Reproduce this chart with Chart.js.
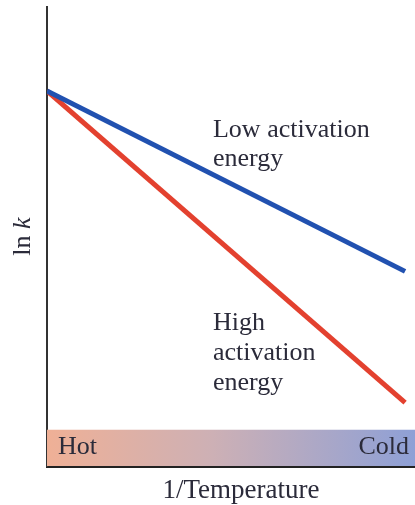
<!DOCTYPE html>
<html>
<head>
<meta charset="utf-8">
<script src="https://cdn.jsdelivr.net/npm/chart.js@4/dist/chart.umd.min.js"></script>
<style>
  html, body { margin: 0; padding: 0; background: #fff; }
  #wrap { width: 415px; height: 505px; }
</style>
</head>
<body>
<div id="wrap"><canvas id="chart" width="415" height="505"></canvas></div>
<script>
// 1/T runs 0 (hot) .. 1 (cold), ln k in arbitrary units 0..1
const xPoints = [0, 0.973];
const lowEa = [0.817, 0.424];
const highEa = [0.817, 0.138];
const bandLabels = ['Hot', 'Cold'];
const lowLabel = ['Low activation', 'energy'];
const highLabel = ['High', 'activation', 'energy'];
const xTitle = '1/Temperature';

const serif = '"Liberation Serif", "DejaVu Serif", serif';
const textColor = '#2b2b3a';
const fontSize = 26;

const toPoints = ys => ys.map((y, i) => ({ x: xPoints[i], y }));

// gradient band along the bottom, plus the annotations and axis titles
const decorations = {
    id: 'decorations',
    beforeDatasetsDraw(chart) {
        const { ctx, chartArea: a, scales } = chart;
        const bandTop = scales.y.getPixelForValue(0.079);
        const g = ctx.createLinearGradient(a.left, 0, a.right, 0);
        g.addColorStop(0, '#efb096');
        g.addColorStop(0.45, '#cdb0b5');
        g.addColorStop(1, '#8ea0d6');
        ctx.save();
        ctx.fillStyle = g;
        ctx.fillRect(a.left, bandTop, a.right - a.left, a.bottom - bandTop);
        ctx.font = fontSize + 'px ' + serif;
        ctx.fillStyle = textColor;
        ctx.textBaseline = 'alphabetic';
        ctx.textAlign = 'left';
        ctx.fillText(bandLabels[0], a.left + 11, a.bottom - 12);
        ctx.textAlign = 'right';
        ctx.fillText(bandLabels[1], a.right - 6, a.bottom - 12);
        ctx.restore();
    },
    afterDatasetsDraw(chart) {
        const { ctx, scales } = chart;
        ctx.save();
        ctx.font = fontSize + 'px ' + serif;
        ctx.fillStyle = textColor;
        ctx.textAlign = 'left';
        ctx.textBaseline = 'alphabetic';
        const lx = scales.x.getPixelForValue(0.451);
        lowLabel.forEach((t, i) => ctx.fillText(t, lx, 137 + i * 29));
        highLabel.forEach((t, i) => ctx.fillText(t, lx, 330 + i * 30));

        // x title, centred a little right of the plot centre as in the source
        ctx.textAlign = 'center';
        ctx.font = '27px ' + serif;
        ctx.fillText(xTitle, scales.x.getPixelForValue(0.527), 498);

        // y title "ln k" with italic k
        ctx.textAlign = 'left';
        ctx.translate(30, scales.y.getPixelForValue(0.5));
        ctx.rotate(-Math.PI / 2);
        const a = 'ln ';
        ctx.font = fontSize + 'px ' + serif;
        const wa = ctx.measureText(a).width;
        ctx.font = 'italic ' + fontSize + 'px ' + serif;
        const wk = ctx.measureText('k').width;
        const start = -(wa + wk) / 2;
        ctx.font = fontSize + 'px ' + serif;
        ctx.fillText(a, start, 0);
        ctx.font = 'italic ' + fontSize + 'px ' + serif;
        ctx.fillText('k', start + wa, 0);
        ctx.restore();
    }
};

new Chart(document.getElementById('chart'), {
    type: 'line',
    data: {
        datasets: [
            { label: 'Low activation energy', data: toPoints(lowEa), borderColor: '#2151b0', borderWidth: 5, pointRadius: 0 },
            { label: 'High activation energy', data: toPoints(highEa), borderColor: '#e3412f', borderWidth: 5, pointRadius: 0 }
        ]
    },
    options: {
        responsive: false,
        animation: false,
        layout: { padding: { left: 47, top: 7, right: 0, bottom: 0 } },
        plugins: { legend: { display: false }, tooltip: { enabled: false } },
        scales: {
            x: {
                type: 'linear', min: 0, max: 1,
                grid: { display: false },
                ticks: { display: false },
                border: { display: true, color: '#222', width: 3 },
                afterFit: s => { s.height = 39; }
            },
            y: {
                min: 0, max: 1,
                grid: { display: false },
                ticks: { display: false },
                border: { display: true, color: '#333', width: 2 },
                afterFit: s => { s.width = 0; }
            }
        }
    },
    plugins: [decorations]
});
</script>
</body>
</html>
